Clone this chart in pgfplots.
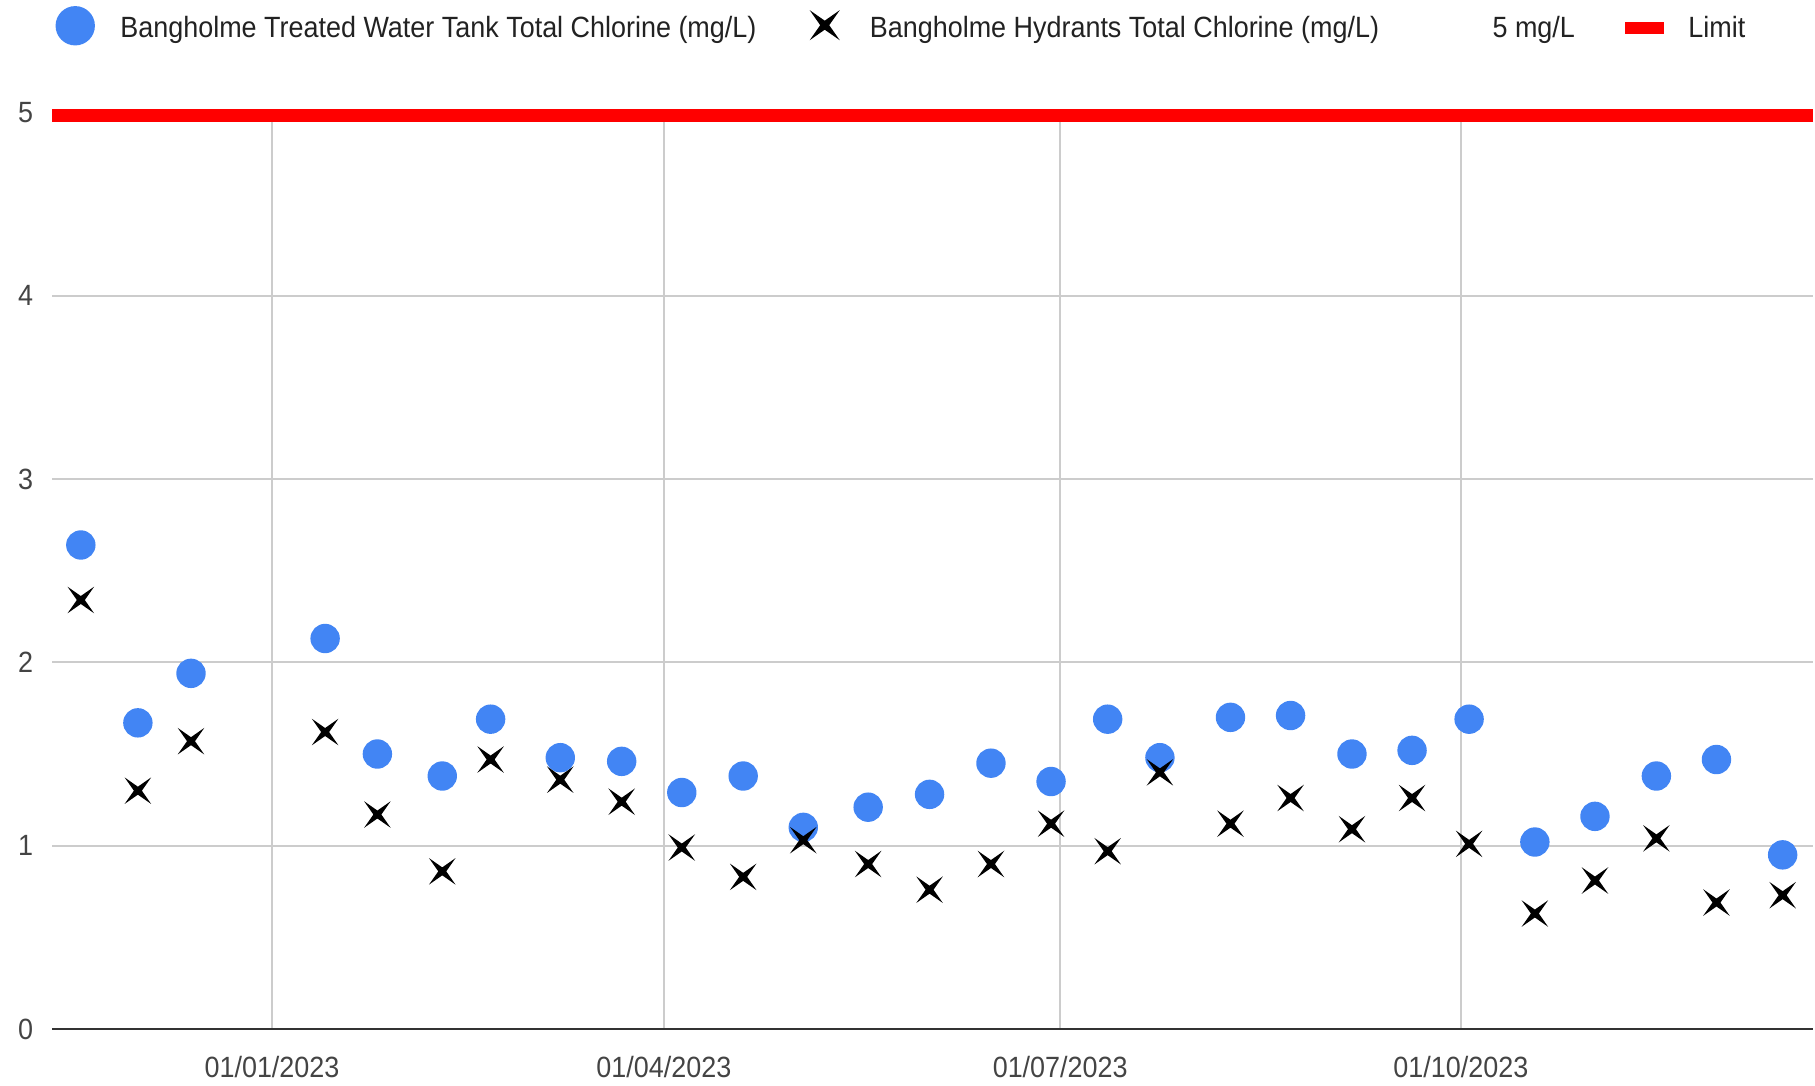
\documentclass[border=0pt]{standalone}
\usepackage{pgfplots}
\pgfplotsset{compat=1.18}
\usepackage{fontspec}
\setmainfont{Liberation Sans}[FakeStretch=0.92]
\definecolor{gblue}{HTML}{4285F4}
\definecolor{gred}{HTML}{FF0000}
\definecolor{ggrid}{HTML}{CCCCCC}
\definecolor{gaxis}{HTML}{333333}
\definecolor{gtext}{HTML}{444444}
\definecolor{glegend}{HTML}{222222}
\pgfdeclareplotmark{xstar}{%
  \pgfpathmoveto{\pgfqpoint{\pgfplotmarksize}{\pgfplotmarksize}}%
  \pgfpathlineto{\pgfqpoint{0pt}{0.3\pgfplotmarksize}}%
  \pgfpathlineto{\pgfqpoint{-\pgfplotmarksize}{\pgfplotmarksize}}%
  \pgfpathlineto{\pgfqpoint{-0.3\pgfplotmarksize}{0pt}}%
  \pgfpathlineto{\pgfqpoint{-\pgfplotmarksize}{-\pgfplotmarksize}}%
  \pgfpathlineto{\pgfqpoint{0pt}{-0.3\pgfplotmarksize}}%
  \pgfpathlineto{\pgfqpoint{\pgfplotmarksize}{-\pgfplotmarksize}}%
  \pgfpathlineto{\pgfqpoint{0.3\pgfplotmarksize}{0pt}}%
  \pgfpathclose
  \pgfusepathqfill}
\pgfplotstableread{
x y
-43.9 2.64
-30.8 1.67
-18.6 1.94
12.2 2.13
24.2 1.50
39.1 1.38
50.2 1.69
66.2 1.48
80.3 1.46
94.1 1.29
108.2 1.38
122.0 1.10
136.9 1.21
151.0 1.28
165.1 1.45
178.9 1.35
191.9 1.69
203.9 1.48
220.1 1.70
233.9 1.71
248.0 1.50
261.8 1.52
274.9 1.69
290.0 1.02
303.8 1.16
317.9 1.38
331.7 1.47
346.9 0.95
}\tankdata
\pgfplotstableread{
x y
-43.9 2.34
-30.8 1.30
-18.6 1.57
12.2 1.62
24.2 1.17
39.1 0.86
50.2 1.47
66.2 1.36
80.3 1.24
94.1 0.99
108.2 0.83
122.0 1.03
136.9 0.90
151.0 0.76
165.1 0.90
178.9 1.12
191.9 0.97
203.9 1.40
220.1 1.12
233.9 1.26
248.0 1.09
261.8 1.26
274.9 1.01
290.0 0.63
303.8 0.81
317.9 1.04
331.7 0.69
346.9 0.73
}\hydrantdata
\begin{document}
\begin{tikzpicture}
\begin{axis}[
  scale only axis, width=152.1mm, height=79.2mm,
  xmin=-50.5, xmax=353.8, ymin=0, ymax=5,
  axis x line*=bottom, axis y line*=left,
  x axis line style={gaxis, line width=0.25mm},
  y axis line style={draw=none},
  xtick={0,90,181,273},
  xticklabels={01/01/2023,01/04/2023,01/07/2023,01/10/2023},
  ytick={0,1,2,3,4,5},
  major tick length=0pt,
  grid=major, major grid style={ggrid, line width=0.17mm},
  tick label style={font=\fontsize{7.2}{8.6}\selectfont, text=gtext},
  /pgf/number format/assume math mode=true,
  yticklabel style={anchor=east, xshift=-0.4mm},
  xticklabel style={anchor=north, yshift=-1.1mm},
  clip=false,
  legend columns=4,
  legend cell align=left,
  legend style={at={(0,1)}, anchor=west, xshift=0.2mm, yshift=7.0mm,
    draw=none, fill=none, inner sep=0pt, outer sep=0pt,
    font=\fontsize{7.2}{8.6}\selectfont, text=glegend,
    nodes={inner sep=0pt},
    /tikz/every odd column/.append style={column sep=2.1mm},
    /tikz/every even column/.append style={column sep=4.1mm}},
]
\addplot[only marks, mark=*, mark size=1.2mm, color=gblue,
  legend image code/.code={\path[draw=none, fill=none] (-1.8mm,-2mm) rectangle (1.8mm,2mm); \path[fill=gblue, draw=none] (0,0.35mm) circle (1.7mm);}]
  table[x=x, y=y] {\tankdata};
\addlegendentry{Bangholme Treated Water Tank Total Chlorine (mg/L)}
\addplot[only marks, mark=xstar, mark size=1.15mm, color=black,
  legend image code/.code={\path[draw=none, fill=none] (-1.8mm,-2mm) rectangle (1.8mm,2mm); \begin{scope}[yshift=0.4mm]\pgfsetplotmarksize{1.3mm}\pgfuseplotmark{xstar}\end{scope}}]
  table[x=x, y=y] {\hydrantdata};
\addlegendentry{Bangholme Hydrants Total Chlorine (mg/L)}
\addlegendimage{legend image code/.code={\path[draw=none, fill=none] (-1.8mm,-2mm) rectangle (1.8mm,2mm);}}
\addlegendentry{5 mg/L}
\addplot[gred, line width=1.15mm, yshift=-0.3mm,
  legend image code/.code={\path[draw=none, fill=none] (-1.9mm,-2mm) rectangle (1.1mm,2mm); \path[fill=gred, draw=none] (-1.7mm,-0.1mm) rectangle (1.7mm,0.96mm);}]
  coordinates {(-50.5,5) (353.8,5)};
\addlegendentry{Limit}
\end{axis}
\pgfresetboundingbox
\path (current axis.south west) ++(-4.5mm,-4.9mm) rectangle ++(156.8mm,93.8mm);
\end{tikzpicture}
\end{document}
